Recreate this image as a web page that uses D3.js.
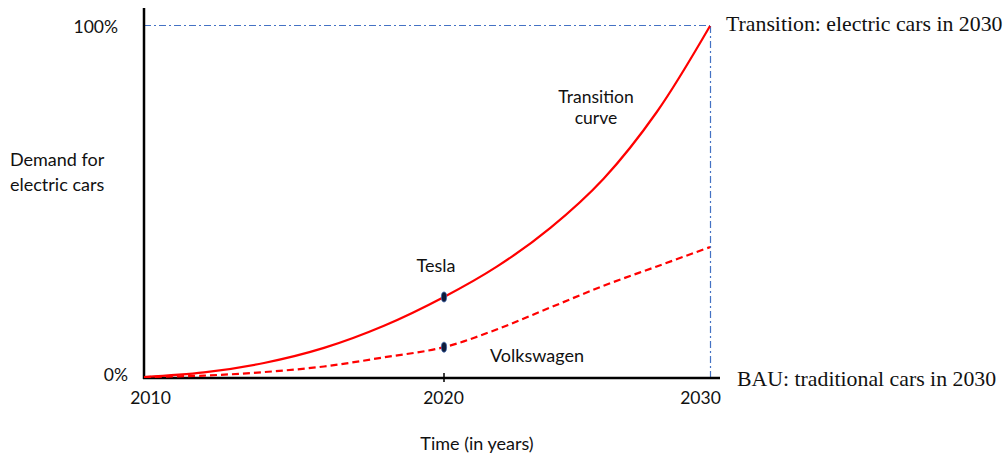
<!DOCTYPE html>
<html>
<head>
<meta charset="utf-8">
<script src="https://cdn.jsdelivr.net/npm/d3@7"></script>
<style>
  body { margin: 0; background: #fff; }
  svg { display: block; }
  .sans { font-family: Lato, "Open Sans", sans-serif; fill: #111; }
  .serif { font-family: "Liberation Serif", "DejaVu Serif", serif; fill: #111; }
</style>
</head>
<body>
<div id="container"><svg></svg></div>
<script>
// data
let years = [2010, 2012, 2014, 2016, 2018, 2020, 2022, 2024, 2026, 2028, 2030];
let transition = [0, 1.3, 4, 8.3, 14.6, 22.8, 31.5, 42.5, 56.5, 75.5, 100];
let bau = [0, 0.4, 1.4, 3.0, 5.6, 8.5, 13.6, 19.8, 26, 31.5, 37];
let yearTicks = [2010, 2020, 2030];
let pctTicks = [0, 100];
let markerYear = 2020;

let width = 1005, height = 457;

function draw_main() {
    let svg = d3.select('#container').select('svg')
        .attr('width', width)
        .attr('height', height);

    // hand drawn chart: x spacing is not even between decades
    let x = d3.scaleLinear()
        .domain(yearTicks)
        .range([144, 444, 710]);
    let y = d3.scaleLinear()
        .domain([0, 100])
        .range([377, 26]);

    // blue dash-dot guides
    svg.append('line')
        .attr('x1', x(2010)).attr('x2', x(2030))
        .attr('y1', y(100) - 0.5).attr('y2', y(100) - 0.5)
        .attr('stroke', '#4472c4').attr('stroke-width', 1.2)
        .attr('stroke-dasharray', '7,3,2,3');
    svg.append('line')
        .attr('x1', x(2030) + 0.5).attr('x2', x(2030) + 0.5)
        .attr('y1', y(100)).attr('y2', y(0) + 1)
        .attr('stroke', '#4472c4').attr('stroke-width', 1.2)
        .attr('stroke-dasharray', '7,3,2,3');

    // axes
    svg.append('line')
        .attr('x1', x(2010)).attr('x2', x(2010))
        .attr('y1', 8).attr('y2', y(0) + 2)
        .attr('stroke', '#000').attr('stroke-width', 2.5);
    svg.append('line')
        .attr('x1', x(2010) - 1).attr('x2', x(2030) + 10)
        .attr('y1', y(0) + 1).attr('y2', y(0) + 1)
        .attr('stroke', '#000').attr('stroke-width', 2.5);
    svg.append('line')
        .attr('x1', x(markerYear)).attr('x2', x(markerYear))
        .attr('y1', y(0) - 4).attr('y2', y(0) + 5)
        .attr('stroke', '#000').attr('stroke-width', 1.5);

    let axis_x = d3.axisBottom(x)
        .tickValues(yearTicks)
        .tickSize(0)
        .tickFormat(d => d);
    let gx = svg.append('g')
        .attr('transform', `translate(0, ${y(0)})`)
        .call(axis_x);
    gx.select('.domain').remove();
    gx.selectAll('text')
        .attr('class', 'sans')
        .attr('font-size', '17.5px')
        .attr('fill', '#111')
        .attr('y', 15)
        .attr('dx', d => d == 2010 ? 6 : (d == 2030 ? -10 : -1));

    let axis_y = d3.axisLeft(y)
        .tickValues(pctTicks)
        .tickSize(0)
        .tickFormat(d => d + '%');
    let gy = svg.append('g')
        .attr('transform', `translate(${x(2010)}, 0)`)
        .call(axis_y);
    gy.select('.domain').remove();
    gy.selectAll('text')
        .attr('class', 'sans')
        .attr('font-size', '17.5px')
        .attr('fill', '#111')
        .attr('x', d => d == 0 ? -16 : -26)
        .attr('dy', d => d == 0 ? '0.18em' : '0.35em');

    // curves
    let line = d3.line()
        .x((d, i) => x(years[i]))
        .y(d => y(d))
        .curve(d3.curveCatmullRom.alpha(0.5));
    svg.append('path')
        .datum(transition)
        .attr('d', line)
        .attr('fill', 'none')
        .attr('stroke', '#ff0000')
        .attr('stroke-width', 2.2);
    svg.append('path')
        .datum(bau)
        .attr('d', line)
        .attr('fill', 'none')
        .attr('stroke', '#ff0000')
        .attr('stroke-width', 2.2)
        .attr('stroke-dasharray', '7,4');

    // markers
    let mi = years.indexOf(markerYear);
    svg.selectAll('ellipse')
        .data([transition[mi], bau[mi]])
        .enter()
        .append('ellipse')
        .attr('cx', x(markerYear))
        .attr('cy', d => y(d))
        .attr('rx', 2.6)
        .attr('ry', 5)
        .attr('fill', '#0d1b3a')
        .attr('stroke', '#3d63a8')
        .attr('stroke-width', 0.8);

    // labels
    let t = svg.append('g').attr('font-size', '18px');
    let ylab = t.append('text').attr('class', 'sans');
    ylab.append('tspan').attr('x', 10).attr('y', 166).text('Demand for');
    ylab.append('tspan').attr('x', 10).attr('y', 191).text('electric cars');
    t.append('text').attr('class', 'sans').attr('x', 436).attr('y', 272)
        .attr('text-anchor', 'middle').text('Tesla');
    t.append('text').attr('class', 'sans').attr('x', 596).attr('y', 103)
        .attr('text-anchor', 'middle').attr('font-size', '17.5px').text('Transition');
    t.append('text').attr('class', 'sans').attr('x', 596).attr('y', 124)
        .attr('text-anchor', 'middle').attr('font-size', '17.5px').text('curve');
    t.append('text').attr('class', 'sans').attr('x', 490).attr('y', 362).text('Volkswagen');
    t.append('text').attr('class', 'sans').attr('x', 477).attr('y', 450)
        .attr('text-anchor', 'middle').text('Time (in years)');

    let s = svg.append('g').attr('font-size', '21.8px');
    s.append('text').attr('class', 'serif').attr('x', 726).attr('y', 31)
        .text('Transition: electric cars in 2030');
    s.append('text').attr('class', 'serif').attr('x', 737).attr('y', 386)
        .text('BAU: traditional cars in 2030');
}

draw_main();
</script>
</body>
</html>
